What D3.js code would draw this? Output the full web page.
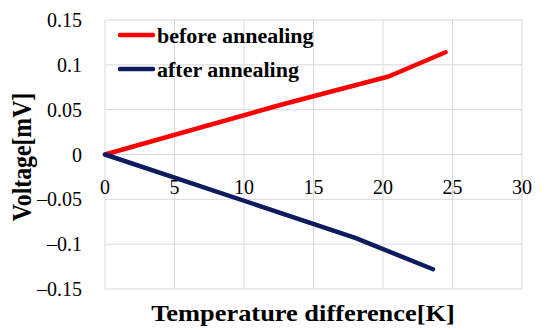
<!DOCTYPE html>
<html>
<head>
<meta charset="utf-8">
<script src="https://cdn.jsdelivr.net/npm/d3@7"></script>
<style>
  body { margin: 0; background: #fff; }
</style>
</head>
<body>
<div id="chart"></div>
<script>
// data
var seriesNames = ["before annealing", "after annealing"];
var seriesColors = ["#ff0000", "#0d1c5e"];
var beforeX = [0, 12.8, 20.4, 24.5];
var beforeY = [0, 0.056, 0.087, 0.114];
var afterX = [0, 12.6, 18, 23.6];
var afterY = [0, -0.065, -0.093, -0.128];
var xTicks = [0, 5, 10, 15, 20, 25, 30];
var yTicks = [-0.15, -0.1, -0.05, 0, 0.05, 0.1, 0.15];
var yTickLabels = ["\u20130.15", "\u20130.1", "\u20130.05", "0", "0.05", "0.1", "0.15"];

var FONT = "'Times New Roman', Times, 'Liberation Serif', 'DejaVu Serif', serif";

var W = 550, H = 330;
var margin = { top: 20, right: 28, bottom: 41, left: 105 };
var width = W - margin.left - margin.right,
  height = H - margin.top - margin.bottom;

var svg = d3.select("#chart")
  .append("svg")
  .attr("width", W)
  .attr("height", H)
  .style("font-family", FONT);

var g = svg.append("g")
  .attr("transform", "translate(" + margin.left + "," + margin.top + ")");

var x = d3.scaleLinear().domain([0, 30]).range([0, width]);
var y = d3.scaleLinear().domain([-0.15, 0.15]).range([height, 0]);

// grid
g.selectAll(".vgrid")
  .data(xTicks)
  .enter()
  .append("line")
  .attr("x1", function (d) { return x(d); })
  .attr("x2", function (d) { return x(d); })
  .attr("y1", 0)
  .attr("y2", height)
  .attr("stroke", "#d9d9d9")
  .attr("stroke-width", 1);

g.selectAll(".hgrid")
  .data(yTicks)
  .enter()
  .append("line")
  .attr("x1", 0)
  .attr("x2", width)
  .attr("y1", function (d) { return y(d); })
  .attr("y2", function (d) { return y(d); })
  .attr("stroke", "#d9d9d9")
  .attr("stroke-width", 1);

// y tick labels
g.selectAll(".ylab")
  .data(yTicks)
  .enter()
  .append("text")
  .attr("x", -23)
  .attr("y", function (d) { return y(d) + 7; })
  .attr("text-anchor", "end")
  .attr("font-size", 20)
  .text(function (d, i) { return yTickLabels[i]; });

// x tick labels, under the zero line
g.selectAll(".xlab")
  .data(xTicks)
  .enter()
  .append("text")
  .attr("x", function (d) { return x(d); })
  .attr("y", y(0) + 39)
  .attr("text-anchor", "middle")
  .attr("font-size", 20)
  .text(function (d) { return d; });

// lines
var line = d3.line()
  .x(function (d) { return x(d[0]); })
  .y(function (d) { return y(d[1]); });

var series = [
  d3.zip(beforeX, beforeY),
  d3.zip(afterX, afterY)
];

g.selectAll(".series")
  .data(series)
  .enter()
  .append("path")
  .attr("d", line)
  .attr("fill", "none")
  .attr("stroke", function (d, i) { return seriesColors[i]; })
  .attr("stroke-width", 4.5)
  .attr("stroke-linecap", "round")
  .attr("stroke-linejoin", "round");

// legend
var legend = svg.selectAll(".legend")
  .data(seriesNames)
  .enter()
  .append("g")
  .attr("transform", function (d, i) { return "translate(120," + (35 + i * 34) + ")"; });

legend.append("line")
  .attr("x1", 0)
  .attr("x2", 33)
  .attr("stroke", function (d, i) { return seriesColors[i]; })
  .attr("stroke-width", 4.5)
  .attr("stroke-linecap", "round");

legend.append("text")
  .attr("transform", "translate(37,8) scale(1.1,1)")
  .attr("font-size", 20)
  .attr("font-weight", "bold")
  .text(function (d) { return d; });

// axis titles
svg.append("text")
  .attr("transform", "translate(303,321) scale(1.1,1)")
  .attr("text-anchor", "middle")
  .attr("font-size", 24)
  .attr("font-weight", "bold")
  .text("Temperature difference[K]");

svg.append("text")
  .attr("transform", "translate(31,157) rotate(-90) scale(0.88,1)")
  .attr("text-anchor", "middle")
  .attr("font-size", 27)
  .attr("font-weight", "bold")
  .text("Voltage[mV]");
</script>
</body>
</html>
